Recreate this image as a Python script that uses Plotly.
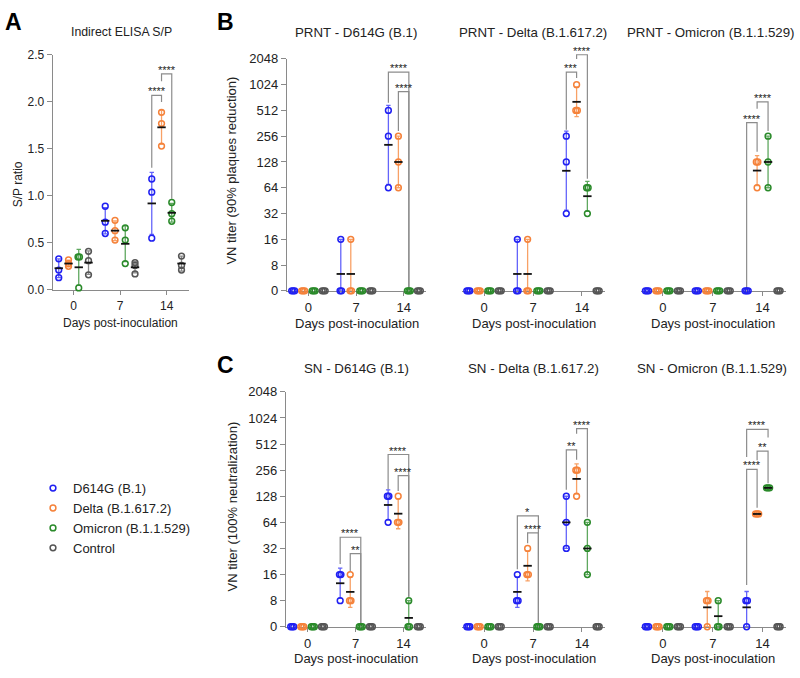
import math
import plotly.graph_objects as go

# ---------------- data ----------------
SERIES = ["D614G (B.1)", "Delta (B.1.617.2)", "Omicron (B.1.1.529)", "Control"]
KEYS = ["D614G", "Delta", "Omicron", "Control"]
DAYS = ["0", "7", "14"]
TITER_TICKS = [0, 8, 16, 32, 64, 128, 256, 512, 1024, 2048]
SP_TICKS = [0.0, 0.5, 1.0, 1.5, 2.0, 2.5]

# Panel A: Indirect ELISA S/P (points per day, mean, SD)
ELISA_POINTS = {
    "D614G": [[0.33, 0.21, 0.13], [0.89, 0.72, 0.60], [1.18, 1.04, 0.55]],
    "Delta": [[0.32, 0.28, 0.25], [0.74, 0.63, 0.53], [1.89, 1.77, 1.53]],
    "Omicron": [[0.35, 0.35, 0.02], [0.66, 0.53, 0.28], [0.93, 0.81, 0.73]],
    "Control": [[0.41, 0.31, 0.16], [0.29, 0.26, 0.17], [0.36, 0.26, 0.21]],
}
ELISA_MEAN = {"D614G": [0.23, 0.735, 0.92], "Delta": [0.28, 0.63, 1.73],
              "Omicron": [0.24, 0.49, 0.82], "Control": [0.29, 0.24, 0.28]}
ELISA_SD = {"D614G": [0.10, 0.14, 0.33], "Delta": [0.035, 0.105, 0.18],
            "Omicron": [0.19, 0.19, 0.10], "Control": [0.125, 0.06, 0.08]}

Z3 = [0, 0, 0]

# Panel B: PRNT titers (points, geometric mean, error low/high)
PRNT_D614G_POINTS = {"D614G": [Z3, [16, 0, 0], [512, 256, 64]],
                     "Delta": [Z3, [16, 0, 0], [256, 128, 64]],
                     "Omicron": [Z3, Z3, Z3], "Control": [Z3, Z3, Z3]}
PRNT_D614G_MEAN = {"D614G": [0, 6.3, 203], "Delta": [0, 6.3, 128],
                   "Omicron": [0, 0, 0], "Control": [0, 0, 0]}
PRNT_D614G_ERR = {"D614G": [None, (0, 16), (70, 588)], "Delta": [None, (0, 16), (64, 256)],
                  "Omicron": [None, None, None], "Control": [None, None, None]}

PRNT_DELTA_POINTS = {"D614G": [Z3, [16, 0, 0], [256, 128, 32]],
                     "Delta": [Z3, [16, 0, 0], [1024, 512, 512]],
                     "Omicron": [Z3, Z3, [64, 64, 32]], "Control": [Z3, Z3, Z3]}
PRNT_DELTA_MEAN = {"D614G": [0, 6.3, 101], "Delta": [0, 6.3, 645],
                   "Omicron": [0, 0, 51], "Control": [0, 0, 0]}
PRNT_DELTA_ERR = {"D614G": [None, (0, 16), (35, 294)], "Delta": [None, (0, 16), (433, 962)],
                  "Omicron": [None, None, (34, 76)], "Control": [None, None, None]}

PRNT_OMICRON_POINTS = {"D614G": [Z3, Z3, Z3], "Delta": [Z3, Z3, [128, 128, 64]],
                       "Omicron": [Z3, Z3, [256, 128, 64]], "Control": [Z3, Z3, Z3]}
PRNT_OMICRON_MEAN = {"D614G": [0, 0, 0], "Delta": [0, 0, 101.6],
                     "Omicron": [0, 0, 128], "Control": [0, 0, 0]}
PRNT_OMICRON_ERR = {"D614G": [None, None, None], "Delta": [None, None, (68, 152)],
                    "Omicron": [None, None, (64, 256)], "Control": [None, None, None]}

# Panel C: SN titers
SN_D614G_POINTS = {"D614G": [Z3, [16, 16, 8], [128, 128, 64]],
                   "Delta": [Z3, [16, 8, 8], [128, 64, 64]],
                   "Omicron": [Z3, Z3, [8, 0, 0]], "Control": [Z3, Z3, Z3]}
SN_D614G_MEAN = {"D614G": [0, 12.7, 101.6], "Delta": [0, 10.1, 80.6],
                 "Omicron": [0, 0, 5.06], "Control": [0, 0, 0]}
SN_D614G_ERR = {"D614G": [None, (8.5, 19), (68, 152)], "Delta": [None, (6.7, 15), (54, 120)],
                "Omicron": [None, None, (0, 8)], "Control": [None, None, None]}

SN_DELTA_POINTS = {"D614G": [Z3, [16, 8, 8], [128, 64, 32]],
                   "Delta": [Z3, [32, 16, 16], [256, 256, 128]],
                   "Omicron": [Z3, Z3, [64, 32, 16]], "Control": [Z3, Z3, Z3]}
SN_DELTA_MEAN = {"D614G": [0, 10.1, 64], "Delta": [0, 20.2, 203],
                 "Omicron": [0, 0, 32], "Control": [0, 0, 0]}
SN_DELTA_ERR = {"D614G": [None, (6.7, 15), (32, 128)], "Delta": [None, (13.5, 30), (136, 302)],
                "Omicron": [None, None, (16, 64)], "Control": [None, None, None]}

SN_OMICRON_POINTS = {"D614G": [Z3, Z3, [8, 8, 0]], "Delta": [Z3, [8, 8, 0], [80, 80, 80]],
                     "Omicron": [Z3, [8, 0, 0], [160, 160, 160]], "Control": [Z3, Z3, Z3]}
SN_OMICRON_MEAN = {"D614G": [0, 0, 6.7], "Delta": [0, 6.7, 80],
                   "Omicron": [0, 5.3, 160], "Control": [0, 0, 0]}
SN_OMICRON_ERR = {"D614G": [None, None, (0, 10.2)], "Delta": [None, (0, 10.2), None],
                  "Omicron": [None, (0, 8), None], "Control": [None, None, None]}

# Significance brackets: (day, series1, series2, top, leg1 bottom, leg2 bottom, label)
# A uses S/P units; others use titer levels (0 = "0", 1 = 8, ... 9 = 2048)
BR_A = [(2, 0, 1, 2.07, 1.30, 2.00, "****"), (2, 1, 2, 2.30, 2.22, 0.97, "****")]
BR_B1 = [(2, 0, 2, 8.49, 7.3, 0, "****"), (2, 1, 2, 7.73, 6.2, 0, "****")]
BR_B2 = [(2, 0, 1, 8.49, 6.25, 8.26, "***"), (2, 1, 2, 9.16, 9.0, 4.35, "****")]
BR_B3 = [(2, 0, 1, 6.53, 0, 5.4, "****"), (2, 1, 2, 7.33, 7.07, 6.2, "****")]
BR_C1 = [(1, 0, 2, 3.43, 2.4, 0, "****"), (1, 1, 2, 2.8, 2.1, 0, "**"),
         (2, 0, 2, 6.6, 5.25, 1.15, "****"), (2, 1, 2, 5.79, 5.2, 1.15, "****")]
BR_C2 = [(1, 0, 2, 4.25, 2.2, 0, "*"), (1, 1, 2, 3.6, 3.2, 0, "****"),
         (2, 0, 1, 6.78, 5.25, 6.4, "**"), (2, 1, 2, 7.59, 7.4, 4.2, "****")]
BR_C3 = [(2, 0, 1, 6.03, 1.6, 4.56, "****"), (2, 1, 2, 6.73, 6.38, 5.5, "**"),
         (2, 0, 2, 7.56, 6.5, 7.25, "****")]

# ---------------- style ----------------
FONT = "Liberation Sans, Arial, sans-serif"
COLORS = ["#2020F2", "#F5823A", "#2A8A2A", "#555555"]
ERR_COLORS = ["#6464FA", "#F8A166", "#5FA85F", "#8A8A8A"]
AX = "#8A8A8A"
TXT = "#222222"
W, H = 800, 678
OFFS = [-0.32, -0.11, 0.11, 0.32]
J = 0.032
ZERO = 4.0
EPS = 0.002          # tiny log-range pad so baseline points are inside the axis range
XR = [-0.45, 2.47]


def px(x):
    return x / W


def py(y):
    return 1 - y / H


def lvl(i):
    return ZERO * 2 ** i


def jitter(vals):
    counts = {v: vals.count(v) for v in vals}
    seen, out = {}, []
    for v in vals:
        c = counts[v]
        k = seen.get(v, 0)
        seen[v] = k + 1
        out.append((k - (c - 1) / 2) * J * (1.0 if c > 1 else 0))
    return out


def elisa_err():
    return {k: [(m - s, m + s) for m, s in zip(ELISA_MEAN[k], ELISA_SD[k])] for k in KEYS}


PANELS = [
    dict(title="Indirect ELISA S/P", log=False, pts=ELISA_POINTS, mean=ELISA_MEAN, err=elisa_err(),
         br=BR_A, xpx=(52.7, 188.5), ypx=(289, 49), top=9, showy=True, tx=121, ty=26, dy=323, fs=12),
    dict(title="PRNT - D614G (B.1)", log=True, pts=PRNT_D614G_POINTS, mean=PRNT_D614G_MEAN,
         err=PRNT_D614G_ERR, br=BR_B1, xpx=(287, 426), ypx=(290, 53), top=9, showy=True, tx=356, ty=26, dy=323, fs=13),
    dict(title="PRNT - Delta (B.1.617.2)", log=True, pts=PRNT_DELTA_POINTS, mean=PRNT_DELTA_MEAN,
         err=PRNT_DELTA_ERR, br=BR_B2, xpx=(462, 605), ypx=(290, 53), top=9.9, showy=False, tx=533, ty=26, dy=323, fs=13),
    dict(title="PRNT - Omicron (B.1.1.529)", log=True, pts=PRNT_OMICRON_POINTS, mean=PRNT_OMICRON_MEAN,
         err=PRNT_OMICRON_ERR, br=BR_B3, xpx=(640.5, 786), ypx=(290, 53), top=9, showy=False, tx=711, ty=26, dy=323, fs=13),
    dict(title="SN - D614G (B.1)", log=True, pts=SN_D614G_POINTS, mean=SN_D614G_MEAN,
         err=SN_D614G_ERR, br=BR_C1, xpx=(286, 426), ypx=(633, 393), top=9, showy=True, tx=356, ty=369, dy=665, fs=13),
    dict(title="SN - Delta (B.1.617.2)", log=True, pts=SN_DELTA_POINTS, mean=SN_DELTA_MEAN,
         err=SN_DELTA_ERR, br=BR_C2, xpx=(462, 605), ypx=(633, 393), top=9, showy=False, tx=533, ty=369, dy=665, fs=13),
    dict(title="SN - Omicron (B.1.1.529)", log=True, pts=SN_OMICRON_POINTS, mean=SN_OMICRON_MEAN,
         err=SN_OMICRON_ERR, br=BR_C3, xpx=(640.5, 786), ypx=(633, 393), top=9, showy=False, tx=712, ty=369, dy=665, fs=13),
]

fig = go.Figure()
layout = {}
annotations = []

for i, p in enumerate(PANELS):
    sfx = "" if i == 0 else str(i + 1)
    xa, ya = "x" + sfx, "y" + sfx
    log = p["log"]
    fs = p["fs"]

    def yv(v, log=log):
        return v if (not log or v > 0) else ZERO

    bottom, full_top = p["ypx"]
    top_px = bottom - (bottom - full_top) * p["top"] / 9.0
    xaxis = dict(domain=[px(p["xpx"][0]), px(p["xpx"][1])], range=XR, anchor=ya,
                 tickmode="array", tickvals=[0, 1, 2], ticktext=DAYS, ticks="outside",
                 ticklen=4, tickwidth=1.2, tickcolor=AX, showline=True, linecolor=AX,
                 linewidth=1.3, showgrid=False, zeroline=False, layer="below traces",
                 tickfont=dict(size=fs, color=TXT, family=FONT), fixedrange=True)
    yaxis = dict(domain=[py(bottom), py(top_px)], anchor=xa, showgrid=False, zeroline=False,
                 layer="below traces", fixedrange=True)
    if log:
        yaxis.update(type="log", range=[math.log10(ZERO) - EPS, math.log10(lvl(p["top"]))],
                     tickmode="array", tickvals=[t if t > 0 else ZERO for t in TITER_TICKS],
                     ticktext=[str(t) for t in TITER_TICKS])
    else:
        yaxis.update(range=[-0.002, 2.5], tickmode="array", tickvals=SP_TICKS,
                     ticktext=["%.1f" % t for t in SP_TICKS])
    if p["showy"]:
        yaxis.update(showline=True, linecolor=AX, linewidth=1.3, ticks="outside", ticklen=5,
                     tickwidth=1.2, tickcolor=AX, tickfont=dict(size=fs, color=TXT, family=FONT))
    else:
        yaxis.update(showline=False, showticklabels=False, ticks="")
    layout["xaxis" + sfx] = xaxis
    layout["yaxis" + sfx] = yaxis

    # brackets
    for (d, s1, s2, top, b1, b2, lab) in p["br"]:
        x1, x2 = d + OFFS[s1], d + OFFS[s2]
        if log:
            ys = [lvl(b1), lvl(top), lvl(top), lvl(b2)]
            yann = math.log10(lvl(top))
        else:
            ys = [b1, top, top, b2]
            yann = top
        fig.add_trace(go.Scatter(x=[x1, x1, x2, x2], y=ys, mode="lines", xaxis=xa, yaxis=ya,
                                 line=dict(color="#8C8C8C", width=1.2), showlegend=False,
                                 hoverinfo="skip"))
        annotations.append(dict(x=(x1 + x2) / 2, y=yann, xref=xa, yref=ya, text=lab,
                                showarrow=False, xanchor="center", yanchor="bottom", yshift=-4,
                                font=dict(size=11, color=TXT, family=FONT)))

    for s, key in enumerate(KEYS):
        # error bars
        ex, ey, ep, em = [], [], [], []
        for d in range(3):
            e = p["err"][key][d]
            m = p["mean"][key][d]
            if e is None:
                continue
            lo, hi = yv(e[0]), yv(e[1])
            ex.append(d + OFFS[s])
            ey.append(m)
            ep.append(hi - m)
            em.append(m - lo)
        if ex:
            fig.add_trace(go.Scatter(x=ex, y=ey, mode="markers", xaxis=xa, yaxis=ya,
                                     marker=dict(size=2, color="rgba(0,0,0,0)"),
                                     error_y=dict(type="data", symmetric=False, array=ep,
                                                  arrayminus=em, color=ERR_COLORS[s],
                                                  thickness=1.3, width=2.2),
                                     showlegend=False, hoverinfo="skip", cliponaxis=False))
    for s, key in enumerate(KEYS):
        # individual points
        xs, ys = [], []
        for d in range(3):
            vals = p["pts"][key][d]
            for v, j in zip(vals, jitter(vals)):
                xs.append(d + OFFS[s] + j)
                ys.append(yv(v))
        fig.add_trace(go.Scatter(x=xs, y=ys, mode="markers", xaxis=xa, yaxis=ya,
                                 name=SERIES[s], legendgroup=key, showlegend=(i == 0),
                                 marker=dict(symbol="circle-open", size=5.8, color=COLORS[s],
                                             line=dict(width=1.5, color=COLORS[s])),
                                 cliponaxis=False, hoverinfo="skip"))
    for s, key in enumerate(KEYS):
        # mean dashes
        mx, my = [], []
        for d in range(3):
            m = p["mean"][key][d]
            if m > 0:
                mx.append(d + OFFS[s])
                my.append(m)
        if mx:
            fig.add_trace(go.Scatter(x=mx, y=my, mode="markers", xaxis=xa, yaxis=ya,
                                     marker=dict(symbol="line-ew", size=6, color="#111111",
                                                 line=dict(width=1.8, color="#111111")),
                                     showlegend=False, hoverinfo="skip", cliponaxis=False))

    # panel title and x-axis title
    annotations.append(dict(x=px(p["tx"]), y=py(p["ty"]), xref="paper", yref="paper",
                            text=p["title"], showarrow=False, xanchor="center", yanchor="middle",
                            font=dict(size=fs + 0.3, color=TXT, family=FONT)))
    annotations.append(dict(x=px((p["xpx"][0] + p["xpx"][1]) / 2), y=py(p["dy"]), xref="paper",
                            yref="paper", text="Days post-inoculation", showarrow=False,
                            xanchor="center", yanchor="middle",
                            font=dict(size=fs, color=TXT, family=FONT)))

# y-axis titles
for text, x, y, f in [("S/P ratio", 18, 181, 12), ("VN titer (90% plaques reduction)", 232, 167, 13),
                      ("VN titer (100% neutralization)", 232, 510, 13)]:
    annotations.append(dict(x=px(x), y=py(y), xref="paper", yref="paper", text=text,
                            textangle=-90, showarrow=False, xanchor="center", yanchor="middle",
                            font=dict(size=f, color=TXT, family=FONT)))

# panel letters
for text, x, y in [("A", 13, 15), ("B", 225, 15), ("C", 225, 366)]:
    annotations.append(dict(x=px(x), y=py(y), xref="paper", yref="paper", text="<b>%s</b>" % text,
                            showarrow=False, xanchor="center", yanchor="middle",
                            font=dict(size=23, color="#000000", family=FONT)))

fig.update_layout(
    width=W, height=H, margin=dict(l=0, r=0, t=0, b=0),
    paper_bgcolor="white", plot_bgcolor="white",
    font=dict(family=FONT, size=13, color=TXT),
    annotations=annotations,
    legend=dict(x=px(33), y=py(476), xanchor="left", yanchor="top", bgcolor="rgba(0,0,0,0)",
                font=dict(size=13, color=TXT, family=FONT), tracegroupgap=0),
    **layout,
)

fig.write_html("out.html", config={"displayModeBar": False},
               post_script="document.body.style.margin='0';document.body.style.padding='0';")
